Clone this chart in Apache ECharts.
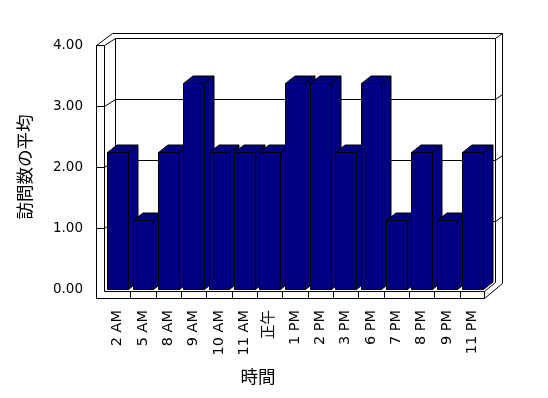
<!DOCTYPE html>
<html>
<head>
<meta charset="utf-8">
<script src="https://cdn.jsdelivr.net/npm/echarts@6/dist/echarts.min.js"></script>
<style>html,body{margin:0;padding:0;background:#fff}#c{width:548px;height:398px}</style>
</head>
<body>
<div id="c"></div>
<script>
const categories = ['2 AM','5 AM','8 AM','9 AM','10 AM','11 AM','正午','1 PM','2 PM','3 PM','6 PM','7 PM','8 PM','9 PM','11 PM'];
const values = [2.25, 1.125, 2.25, 3.375, 2.25, 2.25, 2.25, 3.375, 3.375, 2.25, 3.375, 1.125, 2.25, 1.125, 2.25];
const yTickValues = [0, 1, 2, 3, 4];
const yAxisTitle = '訪問数の平均';
const xAxisTitle = '時間';

const G = {left: 105, right: 63, top: 45, bottom: 109};
const W = 548, H = 398;
const BAR_RATIO = 0.81;
const BDX = 9.5, BDY = -7.5;      // bar depth
const DX = 10.3, DY = -7.5;       // wall depth
const NAVY = '#000080';
const LINE = {stroke: '#000', lineWidth: 1, fill: null};

const chart = echarts.init(document.getElementById('c'), null, {renderer: 'canvas'});

const option = {
  animation: false,
  backgroundColor: '#fff',
  grid: {left: G.left, right: G.right, top: G.top, bottom: G.bottom},
  xAxis: {
    type: 'category', data: categories,
    axisLine: {show: false}, axisTick: {show: false}, splitLine: {show: false},
    axisLabel: {rotate: 90, margin: 21, interval: 0, color: '#000',
      fontFamily: 'DejaVu Sans, Noto Sans CJK JP', fontSize: 14.5}
  },
  yAxis: {
    type: 'value', min: yTickValues[0], max: yTickValues[yTickValues.length - 1], interval: 1,
    axisLine: {show: false}, axisTick: {show: false}, splitLine: {show: false},
    axisLabel: {margin: 22, color: '#000', fontFamily: 'DejaVu Sans', fontSize: 13.5,
      formatter: v => v.toFixed(2)},
    name: yAxisTitle, nameLocation: 'middle', nameRotate: 90, nameGap: 72,
    nameTextStyle: {color: '#000', fontFamily: 'Noto Sans CJK JP', fontSize: 17.5}
  },
  series: [{
    type: 'custom',
    data: values.map((v, i) => [i, v]),
    z: 5,
    renderItem: function (params, api) {
      const i = api.value(0), v = api.value(1);
      const base = api.coord([i, 0]);
      const top = api.coord([i, v]);
      const bw = api.size([1, 0])[0] * BAR_RATIO;
      const x0 = Math.round(base[0] - bw / 2) + 0.5, x1 = Math.round(base[0] + bw / 2) + 0.5;
      const yb = Math.round(base[1]) + 0.5, yt = Math.round(top[1]) + 0.5;
      const st = {fill: NAVY, stroke: '#000', lineWidth: 1};
      return {type: 'group', children: [
        {type: 'polygon', shape: {points: [[x1, yt], [x1 + BDX, yt + BDY], [x1 + BDX, yb + BDY], [x1, yb]]}, style: st},
        {type: 'polygon', shape: {points: [[x0, yt], [x0 + BDX, yt + BDY], [x1 + BDX, yt + BDY], [x1, yt]]}, style: st},
        {type: 'rect', shape: {x: x0, y: yt, width: x1 - x0, height: yb - yt}, style: st}
      ]};
    }
  }]
};
chart.setOption(option);

// ---- 3D frame (walls & floor), derived from the grid and y scale ----
const yOf = v => chart.convertToPixel({yAxisIndex: 0}, v);
const p = v => Math.round(v) + 0.5;
const gx0 = G.left, gx1 = W - G.right;
const xL0 = p(gx0 - 8.7), xL1 = p(gx0 - 1.3);
const xB = p(xL1 + DX), xR = p(gx1 + 10), xR2 = p(gx1 + 16.7);
const yTop = p(yOf(4)), yBackTop = p(yOf(4) + DY), yOuterTop = p(yOf(4) - 12.5);
const y0 = yOf(0);
const yFloorTop = p(y0 + 2), yFloorBot = p(y0 + 9);
const gfx = [];
function line(pts) { gfx.push({type: 'polyline', z: 0, shape: {points: pts}, style: LINE, silent: true}); }
// walls white fill
gfx.push({type: 'polygon', z: -1, shape: {points: [[xL0, yTop], [xL0 + 15, yOuterTop], [xR2, yOuterTop], [xR2, y0 - 6], [gx1, yFloorBot], [xL0, yFloorBot]]}, style: {fill: '#fff'}});
// left wall front face
line([[xL0, yFloorBot], [xL0, yTop], [xL1, yTop], [xL1, yFloorTop]]);
// outer top edge
line([[xL0, yTop], [p(xL0 + 15), yOuterTop], [xR2, yOuterTop], [xR2, p(y0 - 6)]]);
// inner top edge
line([[xL1, yTop], [xB, yBackTop], [xR, yBackTop], [xR2, yOuterTop]]);
// back wall verticals
line([[xB, yBackTop], [xB, p(y0 + DY)]]);
line([[xR, yBackTop], [xR, p(y0 + DY)]]);
// gridlines
yTickValues.slice(1, -1).forEach(v => {
  const yf = p(yOf(v)), yb = p(yOf(v) + DY);
  line([[xL0, yf], [xL1, yf], [xB, yb], [xR, yb], [xR2, p(yOf(v) + DY - 4.5)]]);
});
// floor
line([[xL0, yFloorBot], [p(gx1 - 1), yFloorBot], [xR2, p(y0 - 6)]]);
line([[xL1, yFloorTop], [p(gx1 - 1), yFloorTop], [p(gx1 - 1), yFloorBot]]);
line([[p(gx1 - 1), yFloorTop], [xR, p(y0 + DY)]]);
// category separators on floor front
const bw = (gx1 - gx0) / categories.length;
for (let k = 1; k < categories.length; k++) {
  const x = p(gx0 + k * bw);
  line([[x, yFloorTop], [x, yFloorBot]]);
}
// x-axis title
gfx.push({type: 'text', z: 10, x: 258, y: 376, style: {text: xAxisTitle, fill: '#000',
  font: '17.5px "Noto Sans CJK JP"', textAlign: 'center', textVerticalAlign: 'middle'}});
chart.setOption({graphic: {elements: gfx}});
</script>
</body>
</html>
